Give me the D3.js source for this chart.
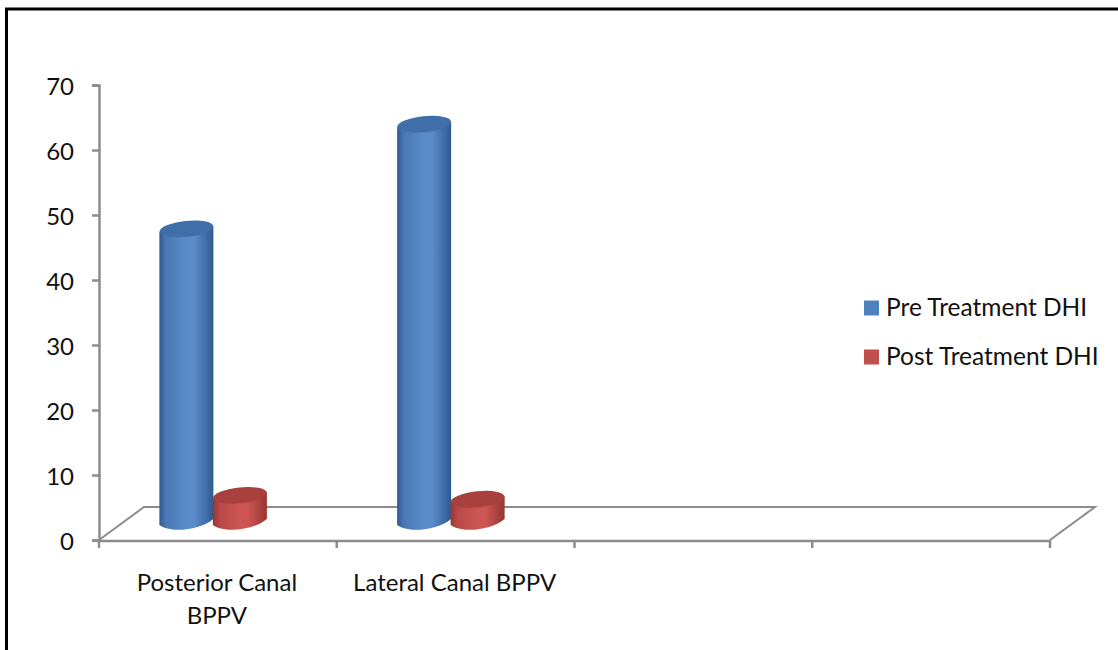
<!DOCTYPE html>
<html>
<head>
<meta charset="utf-8">
<script src="https://cdn.jsdelivr.net/npm/d3@7"></script>
<style>
  html, body { margin: 0; padding: 0; background: #fff; }
  svg { display: block; }
  text { font-family: Lato, "Open Sans", sans-serif; fill: #111; }
</style>
</head>
<body>
<div id="chart"></div>
<script>
const categories = ['Posterior Canal BPPV', 'Lateral Canal BPPV', '', ''];
const seriesNames = ['Pre Treatment DHI', 'Post Treatment DHI'];
const preValues = [45.4, 61.5];
const postValues = [4.4, 3.8];
const yTicks = [0, 10, 20, 30, 40, 50, 60, 70];

const width = 1118, height = 650;
const x0 = 99, x1 = 1050, yBottom = 540, yTop = 85;
const depthX = 45, depthY = -33;
const axisColor = '#8c8c8c';

const svg = d3.select('#chart').append('svg')
    .attr('width', width)
    .attr('height', height);

const defs = svg.append('defs');

function sideGradient(id, edge, mid) {
    const g = defs.append('linearGradient').attr('id', id);
    g.append('stop').attr('offset', '0%').attr('stop-color', edge);
    g.append('stop').attr('offset', '12%').attr('stop-color', d3.interpolateRgb(edge, mid)(0.6));
    g.append('stop').attr('offset', '50%').attr('stop-color', mid);
    g.append('stop').attr('offset', '65%').attr('stop-color', mid);
    g.append('stop').attr('offset', '100%').attr('stop-color', edge);
}
sideGradient('blueSide', '#2f5a90', '#5a8ccb');
sideGradient('redSide', '#963633', '#cd5553');

// outer frame, only top and left show in the picture
svg.append('path')
    .attr('d', `M6.5,${height} V9 H${width}`)
    .attr('fill', 'none')
    .attr('stroke', '#000')
    .attr('stroke-width', 3);

const xScale = d3.scaleBand()
    .domain(d3.range(categories.length))
    .range([x0, x1]);

const yScale = d3.scaleLinear()
    .domain([0, 70])
    .range([yBottom, yTop]);

// floor
svg.append('path')
    .attr('d', `M${x0},${yBottom} L${x0 + depthX},${yBottom + depthY} H${x1 + depthX} L${x1},${yBottom}`)
    .attr('fill', 'none')
    .attr('stroke', axisColor)
    .attr('stroke-width', 2);

const yAxis = d3.axisLeft(yScale).tickValues(yTicks).tickSize(7).tickPadding(18);
const yG = svg.append('g')
    .attr('transform', `translate(${x0},0)`)
    .call(yAxis);

const xTickPos = d3.range(categories.length + 1).map(i => x0 + i * xScale.step());
const xAxisG = svg.append('g');
xAxisG.append('line')
    .attr('x1', x0).attr('x2', x1)
    .attr('y1', yBottom + 1).attr('y2', yBottom + 1);
xAxisG.selectAll('.xtick')
    .data(xTickPos)
    .enter()
    .append('line')
    .attr('class', 'xtick')
    .attr('x1', d => d).attr('x2', d => d)
    .attr('y1', yBottom).attr('y2', yBottom + 8);
xAxisG.selectAll('line').attr('stroke', axisColor).attr('stroke-width', 2.5);

yG.selectAll('.domain, .tick line').attr('stroke', axisColor).attr('stroke-width', 2.5);
yG.selectAll('.tick text')
    .attr('font-size', 24)
    .attr('dy', '0.38em')
    .style('font-family', 'Lato, "Open Sans", sans-serif')
    .attr('fill', '#111');

// cylinders
const barWidth = 54;
const rx = barWidth / 2, ry = 8;
const baseOffset = 16;   // bars stand in the middle of the floor depth
const tilt = -6;

function cylinderSide(cx, yTopC, yBaseC) {
    return `M${cx - rx},${yTopC + 3} L${cx - rx},${yBaseC + 1}` +
        ` C${cx - rx + 10},${yBaseC + ry + 1} ${cx + rx - 14},${yBaseC + ry - 1} ${cx + rx},${yBaseC - 5}` +
        ` L${cx + rx},${yTopC - 3} Z`;
}

function drawCylinder(cx, value, side, top) {
    const yBaseC = yScale(0) - baseOffset;
    const yTopC = yScale(value) - baseOffset;
    const g = svg.append('g');
    g.append('path')
        .attr('d', cylinderSide(cx, yTopC, yBaseC))
        .attr('fill', `url(#${side})`);
    g.append('ellipse')
        .attr('cx', cx).attr('cy', yTopC)
        .attr('rx', rx).attr('ry', ry)
        .attr('transform', `rotate(${tilt} ${cx} ${yTopC})`)
        .attr('fill', top);
}

categories.forEach((c, i) => {
    const mid = xScale(i) + xScale.step() / 2 - 5;
    if (preValues[i] !== undefined) drawCylinder(mid - barWidth / 2 + 0.5, preValues[i], 'blueSide', '#3f6ea9');
    if (postValues[i] !== undefined) drawCylinder(mid + barWidth / 2, postValues[i], 'redSide', '#a8403d');
});

// category labels
const labelLines = [['Posterior Canal', 'BPPV'], ['Lateral Canal BPPV']];
labelLines.forEach((lines, i) => {
    const t = svg.append('text')
        .attr('text-anchor', 'middle')
        .attr('font-size', 24);
    lines.forEach((l, j) => {
        t.append('tspan')
            .attr('x', xScale(i) + xScale.step() / 2 - 1)
            .attr('y', 591 + j * 33)
            .text(l);
    });
});

// legend
const legendColors = ['#4f81bd', '#c0504d'];
const legendY = [308, 357];
seriesNames.forEach((name, i) => {
    svg.append('rect')
        .attr('x', 864).attr('y', legendY[i] - 7.5)
        .attr('width', 15).attr('height', 15)
        .attr('fill', legendColors[i]);
    svg.append('text')
        .attr('x', 886).attr('y', legendY[i] + 8)
        .attr('font-size', 24.5)
        .text(name);
});
</script>
</body>
</html>
